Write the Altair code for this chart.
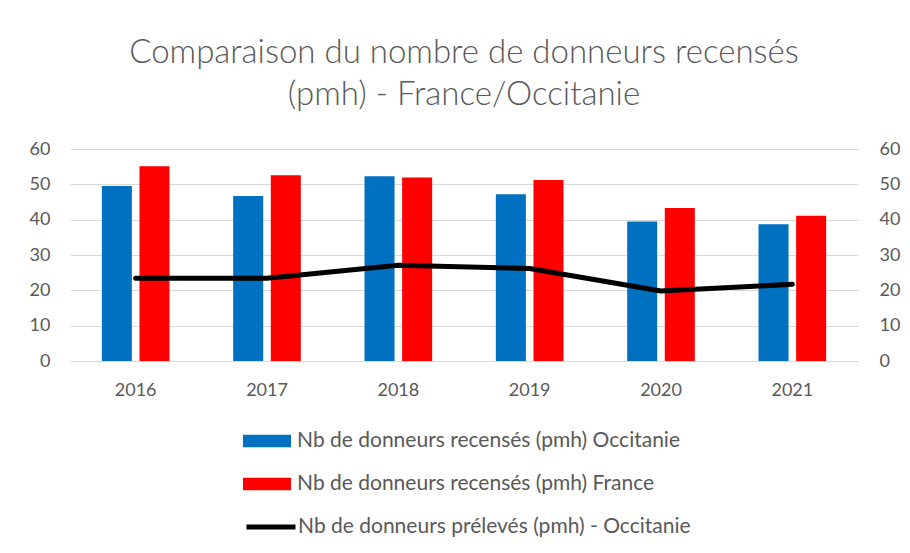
import altair as alt
import pandas as pd

years = ["2016", "2017", "2018", "2019", "2020", "2021"]
occitanie = [49.5, 46.7, 52.3, 47.2, 39.5, 38.7]
france = [55.1, 52.6, 51.9, 51.2, 43.3, 41.1]
preleves = [23.4, 23.4, 27.1, 26.2, 19.8, 21.7]

s_occ = "Nb de donneurs recensés (pmh) Occitanie"
s_fr = "Nb de donneurs recensés (pmh) France"
s_prel = "Nb de donneurs prélevés (pmh) - Occitanie"

bars_df = pd.DataFrame(
    [{"year": y, "series": s_occ, "value": v} for y, v in zip(years, occitanie)]
    + [{"year": y, "series": s_fr, "value": v} for y, v in zip(years, france)]
)
line_df = pd.DataFrame({"year": years, "series": s_prel, "value": preleves})

FONT = "Lato"
GREY = "#595959"

xscale = alt.Scale(paddingInner=0.485, paddingOuter=0.2425)
xaxis = alt.Axis(
    title=None, labelFontSize=18, labelColor=GREY, labelFont=FONT,
    ticks=False, domain=False, labelPadding=20, labelAngle=0,
)

bars = alt.Chart(bars_df).mark_bar().encode(
    x=alt.X("year:N", scale=xscale, axis=xaxis, sort=years),
    xOffset=alt.XOffset("series:N", sort=[s_occ, s_fr],
                        scale=alt.Scale(paddingInner=0.202, paddingOuter=0)),
    y=alt.Y("value:Q", scale=alt.Scale(domain=[0, 60]),
            axis=alt.Axis(title=None, values=[0, 10, 20, 30, 40, 50, 60],
                          labelFontSize=18, labelColor=GREY, labelFont=FONT,
                          ticks=False, domain=False, labelPadding=20,
                          grid=True, gridColor="#d9d9d9", gridWidth=1.2)),
    color=alt.Color("series:N",
                    scale=alt.Scale(domain=[s_occ, s_fr], range=["#0070C0", "#FF0000"]),
                    legend=alt.Legend(
                        title=None, orient="none", legendX=173, legendY=284,
                        direction="vertical", padding=0,
                        symbolType="M-1,-0.26L1,-0.26L1,0.26L-1,0.26Z",
                        symbolSize=2304, symbolStrokeWidth=0, symbolOpacity=1,
                        clipHeight=16, rowPadding=22, labelOffset=6,
                        labelFontSize=21, labelColor=GREY, labelFont=FONT,
                        labelLimit=600,
                    )),
)

line = alt.Chart(line_df).mark_line(strokeWidth=5, strokeCap="round", strokeJoin="round").encode(
    x=alt.X("year:N", scale=xscale, axis=xaxis, sort=years),
    y=alt.Y("value:Q", scale=alt.Scale(domain=[0, 60]),
            axis=alt.Axis(title=None, orient="right", values=[0, 10, 20, 30, 40, 50, 60],
                          labelFontSize=18, labelColor=GREY, labelFont=FONT,
                          ticks=False, domain=False, labelPadding=21, grid=False)),
    stroke=alt.Stroke("series:N",
                      scale=alt.Scale(domain=[s_prel], range=["#000000"]),
                      legend=alt.Legend(
                          title=None, orient="none", legendX=174, legendY=370,
                          direction="vertical", padding=0,
                          symbolType="stroke", symbolSize=2401, symbolStrokeWidth=5,
                          clipHeight=16, labelOffset=0,
                          labelFontSize=21, labelColor=GREY, labelFont=FONT,
                          labelLimit=600,
                      )),
)

chart = alt.layer(bars, line).resolve_scale(y="independent", color="independent").properties(
    width=788,
    height=212,
    autosize=alt.AutoSizeParams(type="none"),
    padding={"left": 62, "top": 141, "right": 44, "bottom": 184},
    title=alt.Title(
        ["Comparaison du nombre de donneurs recensés", "(pmh) - France/Occitanie"],
        fontSize=33, font=FONT, fontWeight=300, color=GREY, anchor="middle",
        lineHeight=42, offset=28,
    ),
).configure_view(stroke=None)

chart.save("out.html", embed_options={"renderer": "svg", "actions": False})
